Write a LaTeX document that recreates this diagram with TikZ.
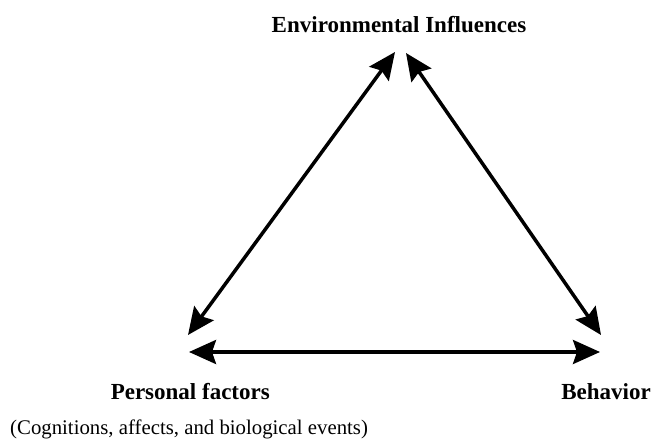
\documentclass[tikz,border=0pt]{standalone}
\usepackage{fontspec}
\setmainfont{Liberation Serif}
\usetikzlibrary{arrows.meta}
\begin{document}
\begin{tikzpicture}[x=1pt,y=1pt,
  link/.style={line width=3.5pt,{Stealth[length=27pt,width=24pt,inset=4pt]}-{Stealth[length=27pt,width=24pt,inset=4pt]}},
  heading/.style={font=\fontsize{23}{27}\selectfont\bfseries,inner sep=0pt},
  note/.style={font=\fontsize{20.8}{24}\selectfont,inner sep=0pt}]
\useasboundingbox (0,0) rectangle (653,444);
% arrow end points
\coordinate (envL) at (395,392);
\coordinate (envR) at (406,391);
\coordinate (perD) at (188,109);
\coordinate (behD) at (601,109);
\coordinate (perH) at (189,92);
\coordinate (behH) at (600,92);
% reciprocal links
\draw[link] (perD) -- (envL);
\draw[link] (envR) -- (behD);
\draw[link] (perH) -- (behH);
% labels
\node[heading,anchor=base] (env) at (399,411) {Environmental Influences};
\node[heading,anchor=base east] (per) at (270,44) {Personal factors};
\node[heading,anchor=base] (beh) at (606,44) {Behavior};
\node[note,anchor=base west] (sub) at (10,9) {(Cognitions, affects, and biological events)};
\end{tikzpicture}
\end{document}
